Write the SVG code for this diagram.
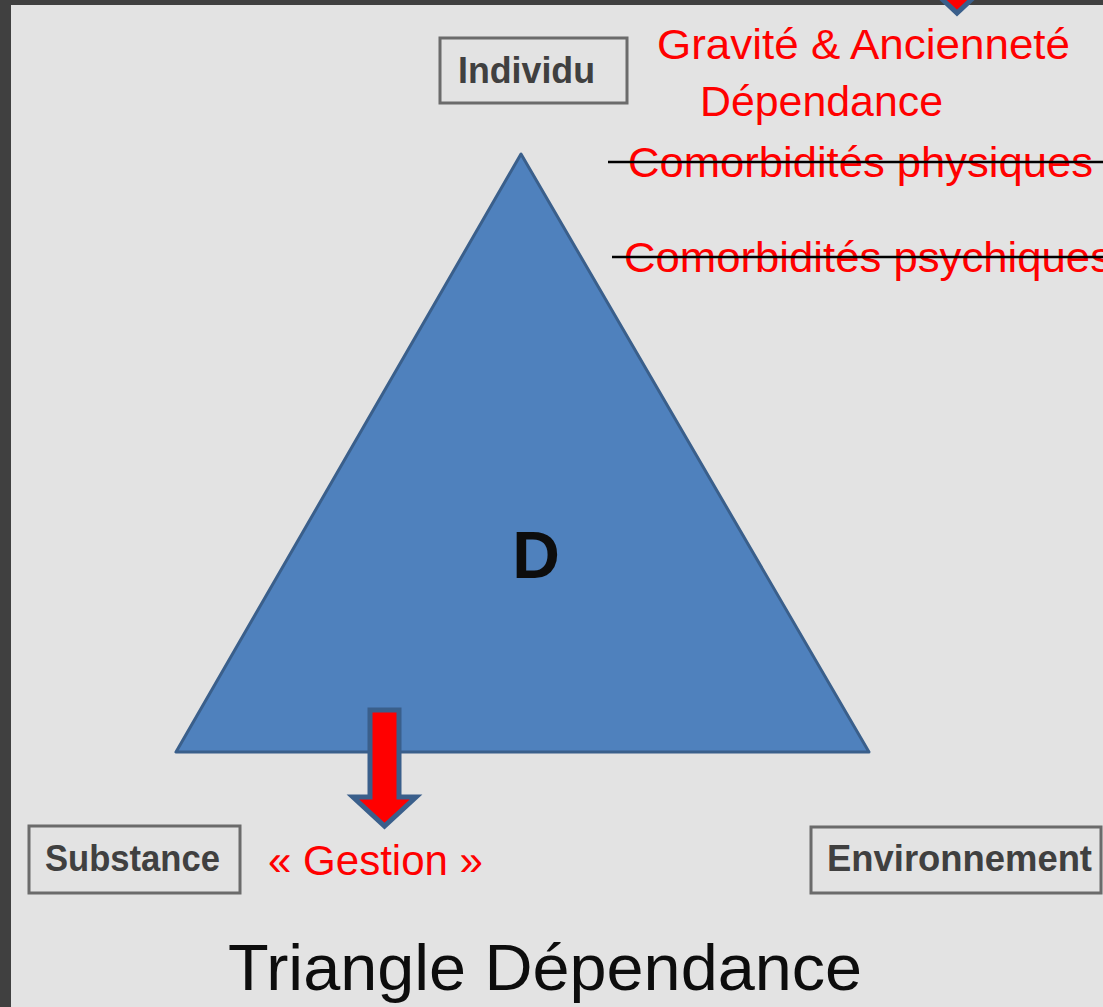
<svg xmlns="http://www.w3.org/2000/svg" width="1103" height="1007" viewBox="0 0 1103 1007">
  <style>
    .box { fill: none; stroke: #6b6b6b; stroke-width: 3; }
    .boxtxt { font-family: "Liberation Sans", Arial, sans-serif; font-weight: 700; font-size: 36px; fill: #404040; }
    .red { font-family: "Liberation Sans", Arial, sans-serif; font-size: 43px; fill: #ff0000; }
    .arrow { fill: #ff0000; stroke: #3a5f8b; stroke-width: 5; stroke-linejoin: miter; }
    .strike { stroke: #000000; stroke-width: 2.5; }
  </style>
  <rect x="0" y="0" width="1103" height="1007" fill="#e3e3e3"/>
  <rect x="0" y="0" width="11" height="1007" fill="#404040"/>
  <rect x="0" y="0" width="1103" height="5" fill="#404040"/>

  <g id="triangle">
    <polygon points="521,154 176,752 869,752" fill="#4f81bd" stroke="#3a5f8b" stroke-width="3" stroke-linejoin="round"/>
    <text x="536" y="578" text-anchor="middle" font-family="Liberation Sans, Arial, sans-serif" font-weight="700" font-size="66" fill="#0d0d0d">D</text>
  </g>

  <g id="individu">
    <rect class="box" x="440" y="38" width="187" height="65"/>
    <text class="boxtxt" x="458" y="83" textLength="137" lengthAdjust="spacingAndGlyphs">Individu</text>
  </g>
  <g id="substance">
    <rect class="box" x="29" y="826" width="211" height="67"/>
    <text class="boxtxt" x="45" y="871" textLength="175" lengthAdjust="spacingAndGlyphs">Substance</text>
  </g>
  <g id="environnement">
    <rect class="box" x="811" y="827" width="290" height="66"/>
    <text class="boxtxt" x="827" y="871" textLength="265" lengthAdjust="spacingAndGlyphs">Environnement</text>
  </g>

  <g id="labels">
    <text class="red" x="657" y="59" textLength="413" lengthAdjust="spacingAndGlyphs">Gravité &amp; Ancienneté</text>
    <text class="red" x="700" y="116" textLength="243" lengthAdjust="spacingAndGlyphs">Dépendance</text>
    <text class="red" x="628" y="177" textLength="465" lengthAdjust="spacingAndGlyphs">Comorbidités physiques</text>
    <text class="red" x="624" y="272" textLength="488" lengthAdjust="spacingAndGlyphs">Comorbidités psychiques</text>
    <text class="red" x="268" y="875" textLength="215" lengthAdjust="spacingAndGlyphs">« Gestion »</text>
    <text x="228" y="990" font-family="Liberation Sans, Arial, sans-serif" font-size="65" fill="#0d0d0d" textLength="634" lengthAdjust="spacingAndGlyphs">Triangle Dépendance</text>
  </g>

  <g id="connectors">
    <line class="strike" x1="608" y1="162" x2="1103" y2="162"/>
    <line class="strike" x1="612" y1="257" x2="1103" y2="257"/>
    <polygon class="arrow" points="370,710 399,710 399,797 416,797 384.5,826 353,797 370,797"/>
    <polygon class="arrow" points="943,-40 971,-40 971,-16 988,-16 957,13 926,-16 943,-16"/>
  </g>
</svg>
